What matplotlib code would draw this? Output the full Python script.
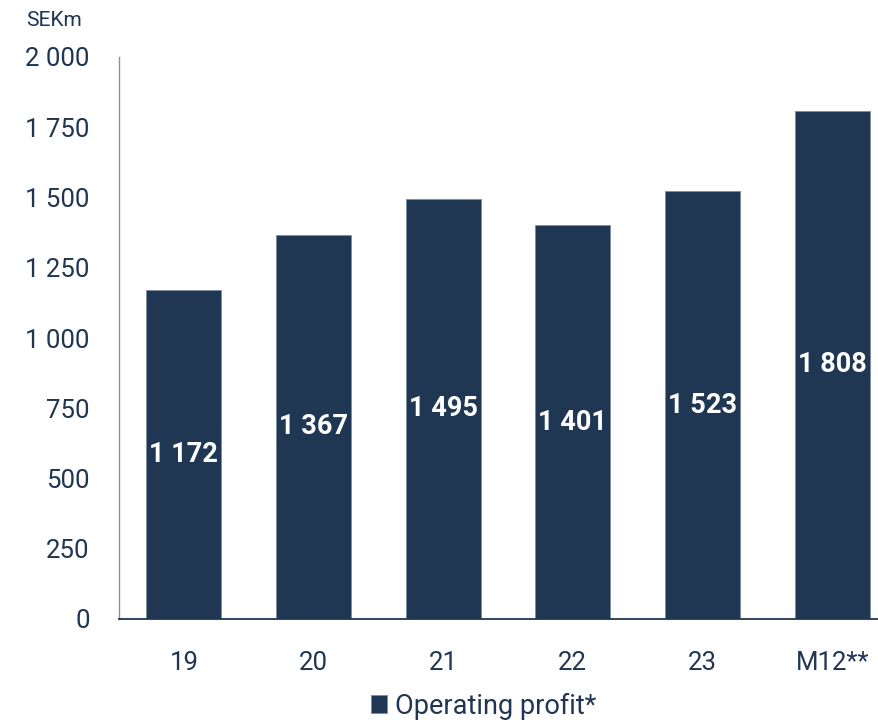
import numpy as np
import matplotlib
matplotlib.use("Agg")
import matplotlib.pyplot as plt
from matplotlib.ticker import FuncFormatter

# data
periods = ["19", "20", "21", "22", "23", "M12**"]
operating_profit = [1172, 1367, 1495, 1401, 1523, 1808]
y_ticks = [0, 250, 500, 750, 1000, 1250, 1500, 1750, 2000]

NAVY = "#203754"
TEXT = "#1f3552"

plt.rcParams["font.family"] = ["Roboto", "DejaVu Sans"]


def space_thousands(v, pos=None):
    return f"{int(round(v)):,}".replace(",", " ")


fig = plt.figure(figsize=(8.79, 7.2), dpi=100)
ax = fig.add_axes([119 / 879, 1 - 619 / 720, 778 / 879, 562 / 720])

x = np.arange(len(periods))
bars = ax.bar(x, operating_profit, width=0.58, color=NAVY,
              edgecolor="#7d8ea3", linewidth=0.6, label="Operating profit*")

for rect, val in zip(bars, operating_profit):
    ax.text(rect.get_x() + rect.get_width() / 2, val / 2, space_thousands(val),
            ha="center", va="center", color="white", fontsize=19.5,
            fontweight="bold")

ax.set_xlim(-0.5, len(periods) - 0.5)
ax.set_ylim(0, 2000)
ax.set_yticks(y_ticks)
ax.yaxis.set_major_formatter(FuncFormatter(space_thousands))
ax.set_xticks(x)
ax.set_xticklabels(periods)

ax.tick_params(axis="y", length=0, pad=21, labelsize=18.5, labelcolor=TEXT)
ax.tick_params(axis="x", length=0, pad=23, labelsize=18.5, labelcolor=TEXT)

for side in ["top", "right"]:
    ax.spines[side].set_visible(False)
ax.spines["left"].set_color("#8593a3")
ax.spines["left"].set_linewidth(1.0)
ax.spines["bottom"].set_color(TEXT)
ax.spines["bottom"].set_linewidth(1.3)

fig.text(26 / 879, 1 - 20 / 720, "SEKm", ha="left", va="center",
         fontsize=15, color=TEXT)

fig.legend(handles=[bars], labels=["Operating profit*"], loc="center",
           bbox_to_anchor=(484 / 879, 1 - 706 / 720), frameon=False,
           fontsize=19.5, handlelength=0.6, handleheight=0.6,
           handletextpad=0.3, labelcolor=TEXT)

fig.savefig("out.png", dpi=100)
